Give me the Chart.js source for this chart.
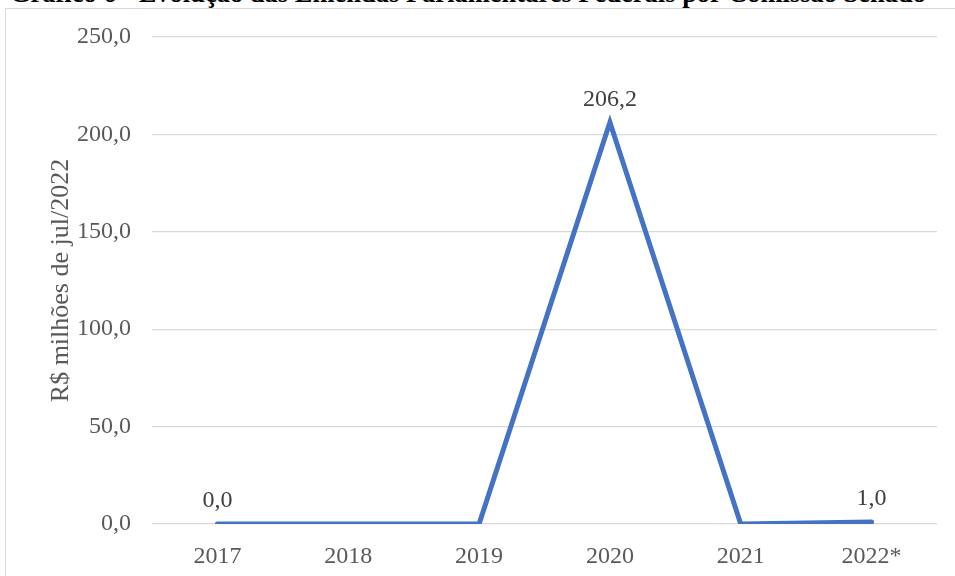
<!DOCTYPE html>
<html lang="pt-BR">

<head>
    <meta charset="UTF-8">
    <title>Evolução das Emendas Parlamentares Federais por Comissão Senado</title>
    <style>
        * {
            margin: 0;
            padding: 0;
            box-sizing: border-box;
        }

        body {
            width: 955px;
            height: 576px;
            overflow: hidden;
            background-color: #fff;
            position: relative;
            font-family: "Liberation Serif", "Times New Roman", serif;
        }

        .titulo {
            position: absolute;
            left: 0;
            top: -20px;
            width: 936px;
            text-align: center;
            font-size: 26.5px;
            line-height: 26.5px;
            font-weight: bold;
            color: #000;
            white-space: nowrap;
        }

        .moldura {
            position: absolute;
            left: 5px;
            top: 8px;
            width: 1000px;
            height: 600px;
            border: 1px solid #d9d9d9;
        }

        canvas {
            position: absolute;
            left: 0;
            top: 0;
        }
    </style>
</head>

<body>
    <div class="titulo">Gráfico 6 - Evolução das Emendas Parlamentares Federais por Comissão Senado</div>
    <div class="moldura"></div>
    <canvas id="emendasChart" width="955" height="576"></canvas>

    <script src="https://cdn.jsdelivr.net/npm/chart.js"></script>
    <script>
        // anos e valores (R$ milhões de jul/2022)
        const anos = ['2017', '2018', '2019', '2020', '2021', '2022*'];
        const valores = [0.0, 0.0, 0.0, 206.2, 0.0, 1.0];
        const mostrarRotulo = [true, false, false, true, false, true];
        const yTicks = [0, 50, 100, 150, 200, 250];

        const fmt = v => v.toFixed(1).replace('.', ',');

        // rótulos de dados acima dos pontos
        const rotulos = {
            id: 'rotulos',
            afterDatasetsDraw(chart) {
                const ctx = chart.ctx;
                const meta = chart.getDatasetMeta(0);
                ctx.save();
                ctx.font = '24px "Liberation Serif", serif';
                ctx.fillStyle = '#404040';
                ctx.textAlign = 'center';
                ctx.textBaseline = 'middle';
                meta.data.forEach((pt, i) => {
                    if (!mostrarRotulo[i]) return;
                    ctx.fillText(fmt(valores[i]), pt.x, pt.y - 23);
                });
                ctx.restore();
            }
        };

        const ctx = document.getElementById('emendasChart').getContext('2d');

        new Chart(ctx, {
            type: 'line',
            data: {
                labels: anos,
                datasets: [{
                    data: valores,
                    borderColor: '#4472C4',
                    borderWidth: 5,
                    pointRadius: 0,
                    borderCapStyle: 'round',
                    borderJoinStyle: 'miter',
                    tension: 0,
                    fill: false
                }]
            },
            options: {
                responsive: false,
                animation: false,
                layout: {
                    padding: { top: 37, right: 18, bottom: 0, left: 0 }
                },
                plugins: {
                    legend: { display: false },
                    tooltip: { enabled: false }
                },
                scales: {
                    x: {
                        offset: true,
                        grid: { display: false },
                        border: { display: false },
                        ticks: {
                            color: '#595959',
                            font: { family: '"Liberation Serif", serif', size: 24 },
                            padding: 10,
                            maxRotation: 0
                        },
                        afterFit(axis) { axis.height = 52; }
                    },
                    y: {
                        min: 0,
                        max: 250,
                        afterBuildTicks(axis) { axis.ticks = yTicks.map(v => ({ value: v })); },
                        grid: { color: '#d9d9d9', lineWidth: 1.3, drawTicks: false },
                        border: { display: false },
                        ticks: {
                            color: '#595959',
                            font: { family: '"Liberation Serif", serif', size: 24 },
                            padding: 21,
                            callback: v => fmt(v)
                        },
                        title: {
                            display: true,
                            text: 'R$ milhões de jul/2022',
                            color: '#595959',
                            font: { family: '"Liberation Serif", serif', size: 26 },
                            padding: { top: 46, bottom: 0 }
                        },
                        afterFit(axis) { axis.width = 152; }
                    }
                }
            },
            plugins: [rotulos]
        });
    </script>
</body>

</html>
